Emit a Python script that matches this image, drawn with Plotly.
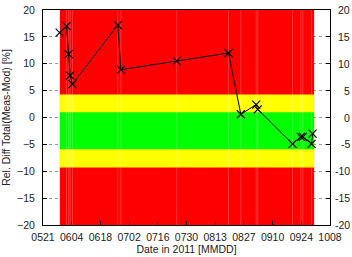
import plotly.graph_objects as go
from datetime import datetime, timedelta

# ---- data ----
dates = ["2011-05-29 03:00", "2011-06-01 12:00", "2011-06-02 12:00", "2011-06-03 06:00",
         "2011-06-04 09:00", "2011-06-26 12:00", "2011-06-28 00:00", "2011-07-25 06:00",
         "2011-08-19 12:00", "2011-08-25 12:00", "2011-09-02 00:00", "2011-09-02 18:00",
         "2011-09-19 18:00", "2011-09-23 18:00", "2011-09-24 18:00", "2011-09-29 00:00",
         "2011-09-29 12:00"]
rel_diff = [15.8, 17.0, 11.8, 7.8, 6.2, 17.2, 8.9, 10.5, 12.0, 0.6, 2.4, 1.5,
            -4.9, -3.6, -3.6, -4.9, -3.0]

band_start = "2011-05-29 06:00"
band_end = "2011-09-30 06:00"
green_band = [-5.9, 1.0]
yellow_band = [-9.3, 4.3]
red_band = [-20, 20]

tick_start = datetime(2011, 5, 21)
tick_vals = [tick_start + timedelta(days=14 * i) for i in range(11)]
tick_text = [d.strftime("%m%d") for d in tick_vals]
y_ticks = [-20, -15, -10, -5, 0, 5, 10, 15, 20]

fig = go.Figure()

def band(lo, hi, color):
    fig.add_trace(go.Scatter(
        x=[band_start, band_end, band_end, band_start, band_start],
        y=[lo, lo, hi, hi, lo], fill="toself", fillcolor=color,
        line=dict(width=0), mode="lines", hoverinfo="skip", showlegend=False))

band(red_band[0], red_band[1], "#ff0000")
band(yellow_band[0], yellow_band[1], "#ffff00")
band(green_band[0], green_band[1], "#00ff00")

# faint seams in the bands at the measurement days
sx, sy = [], []
for d in dates[1:-1]:
    sx += [d, d, None]
    sy += [red_band[0], red_band[1], None]
fig.add_trace(go.Scatter(x=sx, y=sy, mode="lines",
                         line=dict(color="rgba(255,255,255,0.35)", width=0.6),
                         hoverinfo="skip", showlegend=False))

fig.add_trace(go.Scatter(
    x=dates, y=rel_diff, mode="lines+markers",
    line=dict(color="black", width=1),
    marker=dict(symbol="x-thin", size=8, line=dict(color="black", width=1.2)),
    showlegend=False))

font = dict(family="Liberation Sans, Arial, sans-serif", size=10.5, color="#222222")
grid = dict(showgrid=True, gridcolor="#999999", griddash="dot", gridwidth=0.8)

# right-hand tick labels (right-aligned, as in the reference)
for v in y_ticks:
    fig.add_annotation(x=1, xref="paper", y=v, yref="y", text=str(v),
                       showarrow=False, xanchor="right", xshift=21,
                       font=font, borderpad=0)

fig.update_layout(
    width=352, height=257,
    margin=dict(l=43, r=22, t=10, b=32),
    plot_bgcolor="white", paper_bgcolor="white",
    font=font,
    xaxis=dict(
        type="date",
        range=[tick_vals[0], tick_vals[-1]],
        tickvals=tick_vals, ticktext=tick_text,
        ticks="inside", ticklen=4, tickcolor="black",
        showline=True, linecolor="black", linewidth=1, mirror=True,
        showgrid=False, zeroline=False, automargin=False,
        ticklabelstandoff=2,
        title=dict(text="Date in 2011 [MMDD]", standoff=4, font=dict(size=10.5)),
    ),
    yaxis=dict(
        range=[-20, 20], tickvals=y_ticks,
        ticks="inside", ticklen=4, tickcolor="black",
        showline=True, linecolor="black", linewidth=1, mirror="allticks",
        zeroline=False, automargin=False, ticklabelstandoff=5, **grid,
        title=dict(text="Rel. Diff Total(Meas-Mod) [%]", standoff=5, font=dict(size=10.5)),
    ),
)

fig.write_html("out.html")
